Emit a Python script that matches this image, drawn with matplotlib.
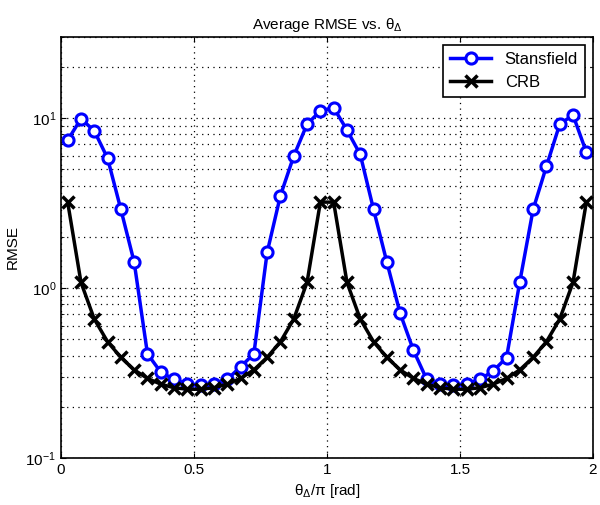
import numpy as np
import matplotlib
matplotlib.use("Agg")
import matplotlib.pyplot as plt
from matplotlib.ticker import LogLocator, NullFormatter

plt.rcParams['font.family'] = ['Liberation Sans', 'DejaVu Sans']
plt.rcParams['mathtext.default'] = 'regular'

# theta_delta / pi sample points
theta = [0.025 + 0.05 * k for k in range(40)]

stansfield = [7.4, 9.9, 8.4, 5.8, 2.9, 1.42, 0.41, 0.32, 0.29, 0.272,
              0.27, 0.272, 0.29, 0.344, 0.41, 1.62, 3.5, 5.97, 9.2, 11.0,
              11.5, 8.5, 6.1, 2.9, 1.42, 0.71, 0.43, 0.29, 0.272, 0.27,
              0.272, 0.29, 0.325, 0.39, 1.09, 2.9, 5.2, 9.2, 10.4, 6.3]

crb_half = [3.2, 1.08, 0.657, 0.483, 0.391, 0.33, 0.294, 0.272, 0.259, 0.254,
            0.254, 0.259, 0.272, 0.294, 0.33, 0.391, 0.483, 0.657, 1.08, 3.2]
crb = crb_half + crb_half

fig = plt.figure(figsize=(6.0, 5.05), dpi=100)
ax = fig.add_axes([0.1017, 0.093, 0.8866, 0.834])

ax.semilogy(theta, stansfield, '-o', color='#0000ff', lw=2.5, ms=8,
            mfc='white', mec='#0000ff', mew=2.2, label='Stansfield')
ax.semilogy(theta, crb, '-x', color='black', lw=2.5, ms=9, mew=2.5,
            label='CRB')

ax.set_xlim(0, 2)
ax.set_ylim(0.1, 30)
ax.set_xticks([0, 0.5, 1, 1.5, 2])
ax.set_xticklabels(['0', '0.5', '1', '1.5', '2'])
ax.yaxis.set_major_locator(LogLocator(base=10, numticks=10))
ax.yaxis.set_minor_locator(LogLocator(base=10, subs=np.arange(2, 10), numticks=10))
ax.yaxis.set_minor_formatter(NullFormatter())

dots = (0, (1, 3.5))
ax.grid(True, which='major', axis='both', linestyle=dots, color='black', lw=0.9)
ax.grid(True, which='minor', axis='y', linestyle=dots, color='black', lw=0.9)
ax.tick_params(which='both', direction='in', top=True, right=True, labelsize=11)
for s in ax.spines.values():
    s.set_linewidth(1.2)

ax.set_xlabel('θ$_{\\Delta}$/π [rad]', fontsize=11)
ax.set_ylabel('RMSE', fontsize=11)
ax.set_title('Average RMSE vs. θ$_{\\Delta}$', fontsize=11)

leg = ax.legend(loc='upper right', fontsize=12, fancybox=False, framealpha=1,
                edgecolor='black', borderaxespad=0.5, handlelength=2.5)
leg.get_frame().set_linewidth(1.2)

fig.savefig('out.png', dpi=100)
